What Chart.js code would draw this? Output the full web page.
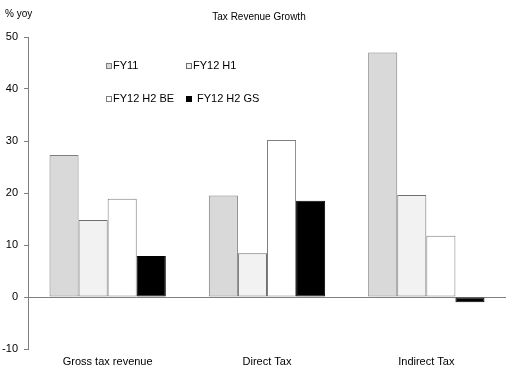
<!DOCTYPE html>
<html>
<head>
<meta charset="utf-8">
<script src="https://cdn.jsdelivr.net/npm/chart.js@4/dist/chart.umd.min.js"></script>
<style>
  body { margin: 0; background: #fff; }
  #wrap { width: 515px; height: 366px; }
</style>
</head>
<body>
<div id="wrap"><canvas id="taxChart" width="515" height="366"></canvas></div>
<script>
// tax revenue growth, % yoy
const categories = ["Gross tax revenue", "Direct Tax", "Indirect Tax"];
const seriesNames = ["FY11", "FY12 H1", "FY12 H2 BE", "FY12 H2 GS"];
const fy11 = [27.3, 19.5, 47.0];
const fy12H1 = [14.8, 8.4, 19.6];
const fy12H2BE = [18.9, 30.2, 11.8];
const fy12H2GS = [7.9, 18.5, -1.0];
const yTicks = [-10, 0, 10, 20, 30, 40, 50];

const fills = ["#d9d9d9", "#f2f2f2", "#ffffff", "#000000"];
const edges = ["#7f7f7f", "#6f6f6f", "#7f7f7f", "#000000"];
const FONT = "Liberation Sans, Arial, sans-serif";

const values = [fy11, fy12H1, fy12H2BE, fy12H2GS];
const datasets = seriesNames.map((name, i) => ({
    label: name,
    data: values[i],
    backgroundColor: fills[i],
    borderColor: edges[i],
    borderWidth: 1,
    borderSkipped: false,
    categoryPercentage: 0.73,
    barPercentage: 1.0
}));

// title, unit label and the in-plot two column legend
const textPlugin = {
    id: "extraText",
    afterDraw(chart) {
        const c = chart.ctx;
        c.save();
        c.fillStyle = "#000";
        c.textBaseline = "middle";
        c.font = "10px " + FONT;
        c.textAlign = "left";
        c.fillText("% yoy", 5, 14);
        c.textAlign = "center";
        c.fillText("Tax Revenue Growth", 259, 17);

        const spots = [[106, 66], [186, 66], [106, 99], [186, 99]];
        c.font = "11px " + FONT;
        c.textAlign = "left";
        chart.data.datasets.forEach((ds, i) => {
            const [x, y] = spots[i];
            c.fillStyle = ds.backgroundColor;
            c.fillRect(x, y - 3, 6, 6);
            c.strokeStyle = ds.borderColor;
            c.lineWidth = 1;
            c.strokeRect(x + 0.5, y - 2.5, 5, 5);
            c.fillStyle = "#000";
            c.fillText(ds.label, x + (i === 3 ? 11 : 7), y);
        });
        c.restore();
    }
};

new Chart(document.getElementById("taxChart").getContext("2d"), {
    type: "bar",
    data: { labels: categories, datasets: datasets },
    options: {
        responsive: false,
        animation: false,
        layout: { padding: { top: 37, right: 9, left: 0, bottom: 0 } },
        plugins: {
            legend: { display: false },
            tooltip: { enabled: false }
        },
        scales: {
            x: {
                grid: { display: false, drawTicks: false },
                border: { display: false },
                ticks: { color: "#000", font: { family: FONT, size: 11 }, padding: 6 },
                afterFit(scale) { scale.height = 17; }
            },
            y: {
                min: -10,
                max: 50,
                afterBuildTicks(scale) { scale.ticks = yTicks.map(v => ({ value: v })); },
                grid: {
                    color: ctx => (ctx.tick && ctx.tick.value === 0 ? "#808080" : "rgba(0,0,0,0)"),
                    tickColor: "#808080",
                    tickLength: 4,
                    drawTicks: true
                },
                border: { display: true, color: "#808080", width: 1 },
                ticks: { color: "#000", font: { family: FONT, size: 11 }, padding: 6 },
                afterFit(scale) { scale.width = 28; }
            }
        }
    },
    plugins: [textPlugin]
});
</script>
</body>
</html>
